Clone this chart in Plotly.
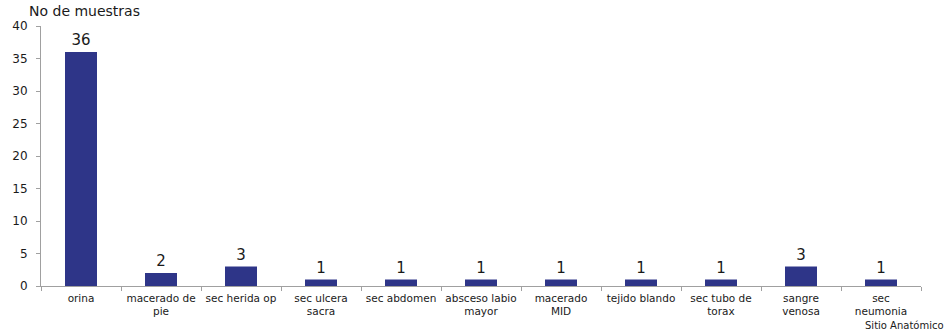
import plotly.graph_objects as go

categories = ["orina", "macerado de<br>pie", "sec herida op", "sec ulcera<br>sacra", "sec abdomen",
              "absceso labio<br>mayor", "macerado<br>MID", "tejido blando", "sec tubo de<br>torax",
              "sangre<br>venosa", "sec<br>neumonia"]
values = [36, 2, 3, 1, 1, 1, 1, 1, 1, 3, 1]
y_ticks = [0, 5, 10, 15, 20, 25, 30, 35, 40]

FONT = "DejaVu Sans"
fig = go.Figure(go.Bar(
    x=categories, y=values, marker=dict(color="#2E3588", line=dict(width=0)),
    text=[str(v) for v in values], textposition="outside", cliponaxis=False,
    textfont=dict(family=FONT, size=15, color="#1a1a1a"),
))
fig.update_layout(
    width=952, height=333, margin=dict(l=41, r=31, t=26, b=47),
    paper_bgcolor="white", plot_bgcolor="white", bargap=0.6, showlegend=False,
    font=dict(family=FONT, size=11, color="#1a1a1a"),
    annotations=[
        dict(text="No de muestras", xref="paper", yref="paper", x=-0.016, y=1.0, yshift=5,
             xanchor="left", yanchor="bottom", showarrow=False, font=dict(family=FONT, size=14)),
        dict(text="Sitio Anatómico", xref="paper", yref="paper", x=1.0, y=0, yshift=-32, xshift=25,
             xanchor="right", yanchor="top", showarrow=False, font=dict(family=FONT, size=10)),
    ],
)
fig.update_xaxes(showline=True, linecolor="#a0a0a0", linewidth=1, ticks="outside", ticklen=4,
                 tickcolor="#a0a0a0", tickson="boundaries", showgrid=False, tickangle=0,
                 automargin=False, ticklabelstandoff=2, tickfont=dict(family=FONT, size=10.5))
fig.update_yaxes(range=[0, 40], tickvals=y_ticks, showline=True, linecolor="#a0a0a0", linewidth=1,
                 ticks="outside", ticklen=4, tickcolor="#a0a0a0", showgrid=False, zeroline=False,
                 automargin=False, ticklabelstandoff=6, tickfont=dict(family=FONT, size=12))
fig.write_html("out.html")
